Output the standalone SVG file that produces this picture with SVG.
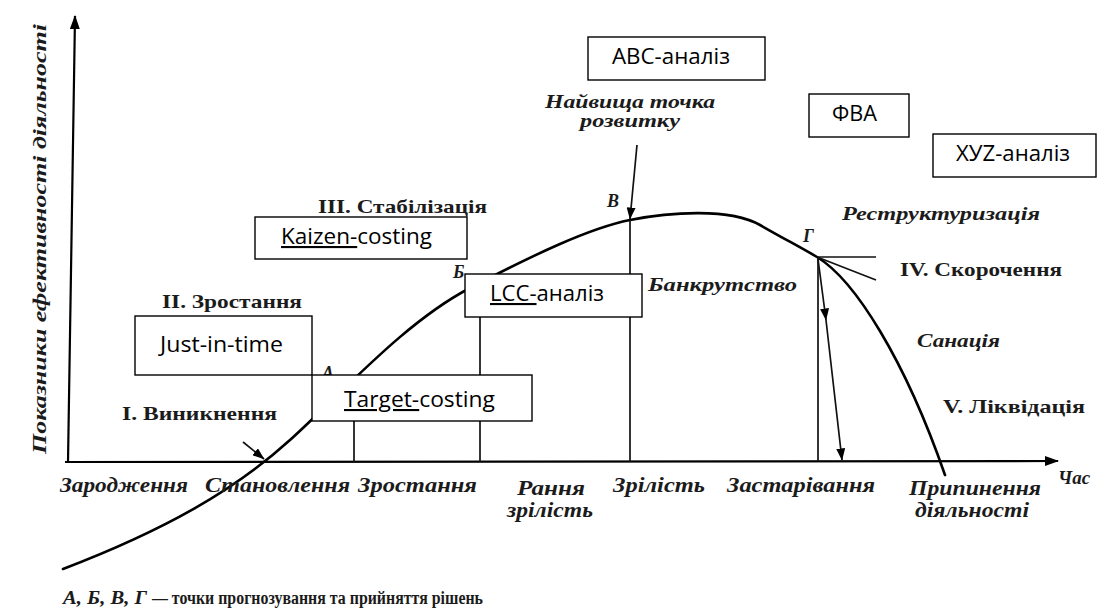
<svg xmlns="http://www.w3.org/2000/svg" width="1098" height="614" viewBox="0 0 1098 614">
  <defs>
    <style>
      .axis { stroke: #000; stroke-width: 2.2; fill: none; }
      .guide { stroke: #111; stroke-width: 1.7; fill: none; }
      .curve { stroke: #000; stroke-width: 2.6; fill: none; stroke-linecap: round; }
      .box rect { fill: #fff; stroke: #000; stroke-width: 1.4; }
      .box text { font-family: "Open Sans", "Liberation Sans", sans-serif; font-size: 21px; fill: #000; }
      .u { text-decoration: underline; }
      .it { font-family: "Liberation Serif", "DejaVu Serif", serif; font-style: italic; font-weight: bold; fill: #1b1b1b; }
      .rb { font-family: "Liberation Serif", "DejaVu Serif", serif; font-weight: bold; fill: #1b1b1b; }
      .stage { font-size: 19px; }
      .time { font-size: 20px; }
    </style>
    <marker id="axisHead" viewBox="0 0 14 10" refX="13" refY="5" markerWidth="14" markerHeight="10" markerUnits="userSpaceOnUse" orient="auto">
      <path d="M0,0 L14,5 L0,10 z" fill="#000"/>
    </marker>
    <marker id="head" viewBox="0 0 12 9" refX="11.5" refY="4.5" markerWidth="12" markerHeight="9" markerUnits="userSpaceOnUse" orient="auto">
      <path d="M0,0 L12,4.5 L0,9 z" fill="#000"/>
    </marker>
  </defs>

  <rect width="1098" height="614" fill="#fff"/>

  <!-- axes -->
  <g id="axes">
    <line class="axis" x1="68" y1="462" x2="75" y2="16" marker-end="url(#axisHead)"/>
    <line class="axis" x1="65" y1="462" x2="1058" y2="461" marker-end="url(#axisHead)"/>
    <text class="it" font-size="18" transform="translate(46,454) rotate(-90)" textLength="430" lengthAdjust="spacingAndGlyphs">Показники ефективності діяльності</text>
    <text class="it" font-size="19" x="1058" y="484">Час</text>
  </g>

  <!-- life-cycle curve, guide lines and arrows -->
  <g id="connectors">
    <path class="curve" d="M63,569 C165,530 235,490 290,440 S405,322 470,288 S590,228 630,220 S730,208 760,225 S800,247 817,257 C855,280 905,360 945,475"/>
    <line class="guide" x1="354" y1="380" x2="354" y2="462"/>
    <line class="guide" x1="480" y1="284" x2="480" y2="462"/>
    <line class="guide" x1="630" y1="220" x2="630" y2="462"/>
    <line class="guide" x1="818" y1="257" x2="818" y2="462"/>
    <line class="guide" x1="817" y1="257" x2="876" y2="257"/>
    <line class="guide" x1="817" y1="257" x2="876" y2="280"/>
    <polyline class="guide" points="818,259 826,320 842,460" marker-mid="url(#head)" marker-end="url(#head)"/>
    <line class="guide" x1="637" y1="145" x2="630" y2="219" marker-end="url(#head)"/>
    <line class="guide" x1="243" y1="442" x2="264" y2="459" marker-end="url(#head)"/>
  </g>

  <!-- decision points -->
  <g id="points">
    <text class="it" font-size="18" x="322" y="379">А</text>
    <text class="it" font-size="18" x="453" y="278">Б</text>
    <text class="it" font-size="18" x="607" y="207">В</text>
    <text class="it" font-size="18" x="803" y="242">Г</text>
  </g>

  <!-- stage names -->
  <g id="stages">
    <text class="rb stage" x="122" y="420" textLength="155" lengthAdjust="spacingAndGlyphs">I. Виникнення</text>
    <text class="rb stage" x="162" y="308" textLength="140" lengthAdjust="spacingAndGlyphs">II. Зростання</text>
    <text class="rb stage" x="318" y="213" textLength="169" lengthAdjust="spacingAndGlyphs">III. Стабілізація</text>
    <text class="rb stage" x="900" y="276" textLength="162" lengthAdjust="spacingAndGlyphs">IV. Скорочення</text>
    <text class="rb stage" x="943" y="413" textLength="142" lengthAdjust="spacingAndGlyphs">V. Ліквідація</text>
  </g>

  <!-- scenario labels -->
  <g id="scenarios">
    <text class="it" font-size="18" x="545" y="108" textLength="170" lengthAdjust="spacingAndGlyphs">Найвища точка</text>
    <text class="it" font-size="18" x="580" y="127" textLength="100" lengthAdjust="spacingAndGlyphs">розвитку</text>
    <text class="it" font-size="18" x="842" y="220" textLength="198" lengthAdjust="spacingAndGlyphs">Реструктуризація</text>
    <text class="it" font-size="18" x="648" y="291" textLength="149" lengthAdjust="spacingAndGlyphs">Банкрутство</text>
    <text class="it" font-size="18" x="917" y="347" textLength="83" lengthAdjust="spacingAndGlyphs">Санація</text>
  </g>

  <!-- time axis phases -->
  <g id="phases">
    <text class="it time" x="60" y="492" textLength="128" lengthAdjust="spacingAndGlyphs">Зародження</text>
    <text class="it time" x="205" y="492" textLength="145" lengthAdjust="spacingAndGlyphs">Становлення</text>
    <text class="it time" x="358" y="492" textLength="119" lengthAdjust="spacingAndGlyphs">Зростання</text>
    <text class="it time" x="517" y="495" textLength="68" lengthAdjust="spacingAndGlyphs">Рання</text>
    <text class="it time" x="507" y="517" textLength="86" lengthAdjust="spacingAndGlyphs">зрілість</text>
    <text class="it time" x="613" y="492" textLength="92" lengthAdjust="spacingAndGlyphs">Зрілість</text>
    <text class="it time" x="727" y="492" textLength="148" lengthAdjust="spacingAndGlyphs">Застарівання</text>
    <text class="it time" x="909" y="495" textLength="132" lengthAdjust="spacingAndGlyphs">Припинення</text>
    <text class="it time" x="915" y="517" textLength="114" lengthAdjust="spacingAndGlyphs">діяльності</text>
  </g>

  <!-- method boxes -->
  <g id="abc" class="box">
    <rect x="588" y="37" width="177" height="43"/>
    <text x="612" y="64" textLength="118" lengthAdjust="spacingAndGlyphs">ABC-аналіз</text>
  </g>
  <g id="fva" class="box">
    <rect x="809" y="94" width="100" height="43"/>
    <text x="832" y="121" textLength="45" lengthAdjust="spacingAndGlyphs">ФВА</text>
  </g>
  <g id="xyz" class="box">
    <rect x="933" y="134" width="163" height="43"/>
    <text x="956" y="161" textLength="114" lengthAdjust="spacingAndGlyphs">ХУZ-аналіз</text>
  </g>
  <g id="kaizen" class="box">
    <rect x="255" y="217" width="212" height="42"/>
    <text x="281" y="244" textLength="151" lengthAdjust="spacingAndGlyphs"><tspan class="u">Kaizen-</tspan>costing</text>
  </g>
  <g id="lcc" class="box">
    <rect x="465" y="274" width="177" height="43"/>
    <text x="490" y="301" textLength="114" lengthAdjust="spacingAndGlyphs"><tspan class="u">LCC-</tspan>аналіз</text>
  </g>
  <g id="jit" class="box">
    <rect x="135" y="316" width="177" height="59"/>
    <text x="160" y="352" textLength="123" lengthAdjust="spacingAndGlyphs">Just-in-time</text>
  </g>
  <g id="target" class="box">
    <rect x="312" y="375" width="220" height="46"/>
    <text x="344" y="407" textLength="151" lengthAdjust="spacingAndGlyphs"><tspan class="u">Target-</tspan>costing</text>
  </g>

  <!-- legend -->
  <g id="legend">
    <text class="it" font-size="19" x="63" y="604" textLength="84" lengthAdjust="spacingAndGlyphs">А, Б, В, Г</text>
    <text class="rb" font-size="18" x="152" y="604" textLength="331" lengthAdjust="spacingAndGlyphs">— точки прогнозування та прийняття рішень</text>
  </g>
</svg>
